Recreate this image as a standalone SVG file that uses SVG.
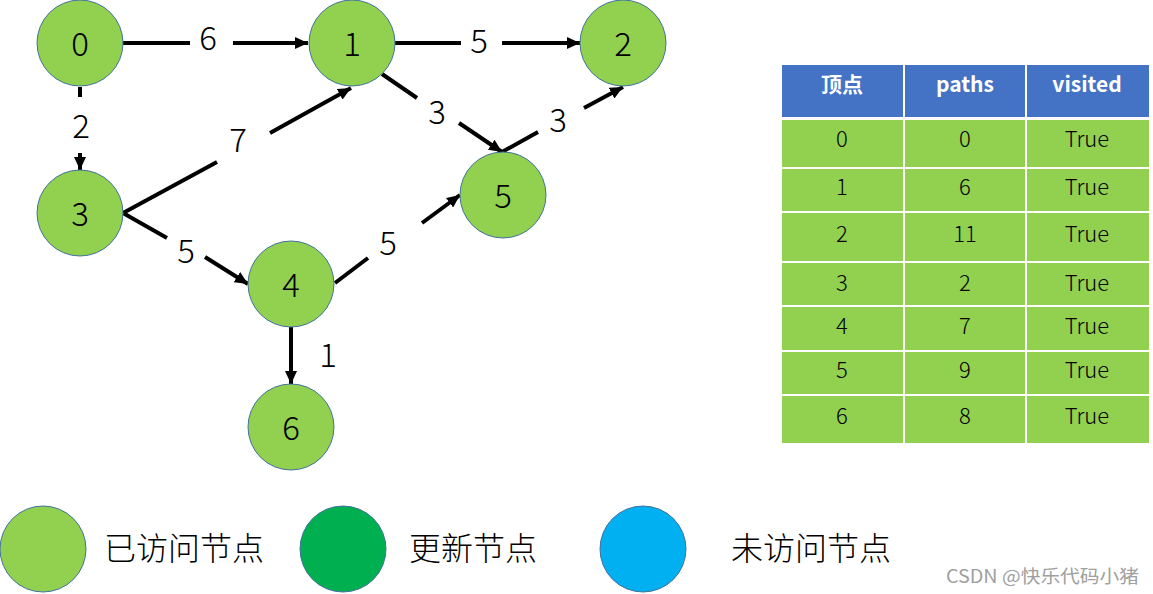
<svg xmlns="http://www.w3.org/2000/svg" width="1153" height="594" viewBox="0 0 1153 594">
<style>
.node{fill:#92D050;stroke:#41719C;stroke-width:1}
.nl{font-family:"Noto Sans CJK SC Light","Noto Sans CJK SC DemiLight","Noto Sans CJK SC","DejaVu Sans",sans-serif;font-weight:300;font-size:33px;fill:#000;text-anchor:middle}
.el{font-family:"Noto Sans CJK SC Light","Noto Sans CJK SC DemiLight","Noto Sans CJK SC","DejaVu Sans",sans-serif;font-weight:300;font-size:33px;fill:#000;text-anchor:middle}
.edge{stroke:#000;stroke-width:4;fill:none;marker-end:url(#ah)}
.hd{fill:#4472C4}
.cell{fill:#92D050}
.th{font-family:"Noto Sans CJK SC","Liberation Sans",sans-serif;font-weight:700;font-size:21px;fill:#fff;text-anchor:middle}
.td{font-family:"Noto Sans CJK SC Light","Noto Sans CJK SC DemiLight","Noto Sans CJK SC","Liberation Sans",sans-serif;font-weight:300;font-size:22px;fill:#000;text-anchor:middle}
.grid{stroke:#fff;stroke-width:2}
.lg{font-family:"Noto Sans CJK SC Light","Noto Sans CJK SC DemiLight","Noto Sans CJK SC",sans-serif;font-weight:300;font-size:32px;fill:#000}
.wm{font-family:"Noto Sans CJK SC",sans-serif;font-size:18px;fill:#A0A0A0}
</style>
<defs>
<marker id="ah" markerUnits="userSpaceOnUse" markerWidth="14" markerHeight="12" refX="13" refY="6" orient="auto">
<path d="M0,0 L13,6 L0,12 Z" fill="#000"/>
</marker>
</defs>
<rect width="1153" height="594" fill="#fff"/>
<g id="connectors">
<path class="edge" d="M123,43 L190,43 M233,43 L308,43"/>
<path class="edge" d="M80,87 L80,97 M80,153 L80,170"/>
<path class="edge" d="M395,43 L461,43 M502,43 L580,43"/>
<path class="edge" d="M123,213 L217,162 M270,133 L351,88"/>
<path class="edge" d="M382,74 L417,98 M459,123 L502,152"/>
<path class="edge" d="M502,152 L538,132 M584,108 L623,87"/>
<path class="edge" d="M123,213 L167,238 M205,257 L248,284"/>
<path class="edge" d="M335,283 L368,258 M422,223 L460,195"/>
<path class="edge" d="M291,327 L291,384"/>
<text class="el" x="208" y="50">6</text>
<text class="el" x="81" y="138">2</text>
<text class="el" x="479" y="53">5</text>
<text class="el" x="238" y="152">7</text>
<text class="el" x="437" y="124">3</text>
<text class="el" x="558" y="132">3</text>
<text class="el" x="186" y="263">5</text>
<text class="el" x="388" y="255">5</text>
<text class="el" x="328" y="367">1</text>
</g>
<g id="node0"><circle class="node" cx="80" cy="43" r="43"/><text class="nl" x="80" y="56">0</text></g>
<g id="node1"><circle class="node" cx="352" cy="43" r="43"/><text class="nl" x="352" y="56">1</text></g>
<g id="node2"><circle class="node" cx="623" cy="43" r="43"/><text class="nl" x="623" y="56">2</text></g>
<g id="node3"><circle class="node" cx="80" cy="213" r="43"/><text class="nl" x="80" y="226">3</text></g>
<g id="node4"><circle class="node" cx="291" cy="284" r="43"/><text class="nl" x="291" y="297">4</text></g>
<g id="node5"><circle class="node" cx="503" cy="195" r="43"/><text class="nl" x="503" y="208">5</text></g>
<g id="node6"><circle class="node" cx="291" cy="427" r="43"/><text class="nl" x="291" y="440">6</text></g>
<g id="table">
<rect class="hd" x="782" y="65" width="367" height="52"/>
<rect class="cell" x="782" y="120" width="367" height="323"/>
<line class="grid" x1="782" y1="118.5" x2="1149" y2="118.5" stroke-width="3"/>
<line class="grid" x1="782" y1="168" x2="1149" y2="168"/>
<line class="grid" x1="782" y1="212" x2="1149" y2="212"/>
<line class="grid" x1="782" y1="262" x2="1149" y2="262" stroke="#d8eec0"/>
<line class="grid" x1="782" y1="306" x2="1149" y2="306"/>
<line class="grid" x1="782" y1="351" x2="1149" y2="351"/>
<line class="grid" x1="782" y1="395" x2="1149" y2="395"/>
<line class="grid" x1="904" y1="65" x2="904" y2="443"/>
<line class="grid" x1="1026" y1="65" x2="1026" y2="443"/>
<text class="th" x="842" y="92">顶点</text>
<text class="th" x="965" y="92">paths</text>
<text class="th" x="1087" y="92">visited</text>
<text class="td" x="842" y="147">0</text><text class="td" x="965" y="147">0</text><text class="td" x="1087" y="147">True</text>
<text class="td" x="842" y="195">1</text><text class="td" x="965" y="195">6</text><text class="td" x="1087" y="195">True</text>
<text class="td" x="842" y="242">2</text><text class="td" x="965" y="242">11</text><text class="td" x="1087" y="242">True</text>
<text class="td" x="842" y="291">3</text><text class="td" x="965" y="291">2</text><text class="td" x="1087" y="291">True</text>
<text class="td" x="842" y="334">4</text><text class="td" x="965" y="334">7</text><text class="td" x="1087" y="334">True</text>
<text class="td" x="842" y="378">5</text><text class="td" x="965" y="378">9</text><text class="td" x="1087" y="378">True</text>
<text class="td" x="842" y="424">6</text><text class="td" x="965" y="424">8</text><text class="td" x="1087" y="424">True</text>
</g>
<g id="legend-visited"><circle cx="43" cy="549" r="43" fill="#92D050" stroke="#41719C" stroke-width="1"/><text class="lg" x="104" y="560">已访问节点</text></g>
<g id="legend-updated"><circle cx="343" cy="549" r="43" fill="#00B050" stroke="#41719C" stroke-width="1"/><text class="lg" x="409" y="560">更新节点</text></g>
<g id="legend-unvisited"><circle cx="643" cy="549" r="43" fill="#00B0F0" stroke="#41719C" stroke-width="1"/><text class="lg" x="731" y="560">未访问节点</text></g>
<text class="wm" x="946" y="583" textLength="193" lengthAdjust="spacingAndGlyphs">CSDN @快乐代码小猪</text>
</svg>
